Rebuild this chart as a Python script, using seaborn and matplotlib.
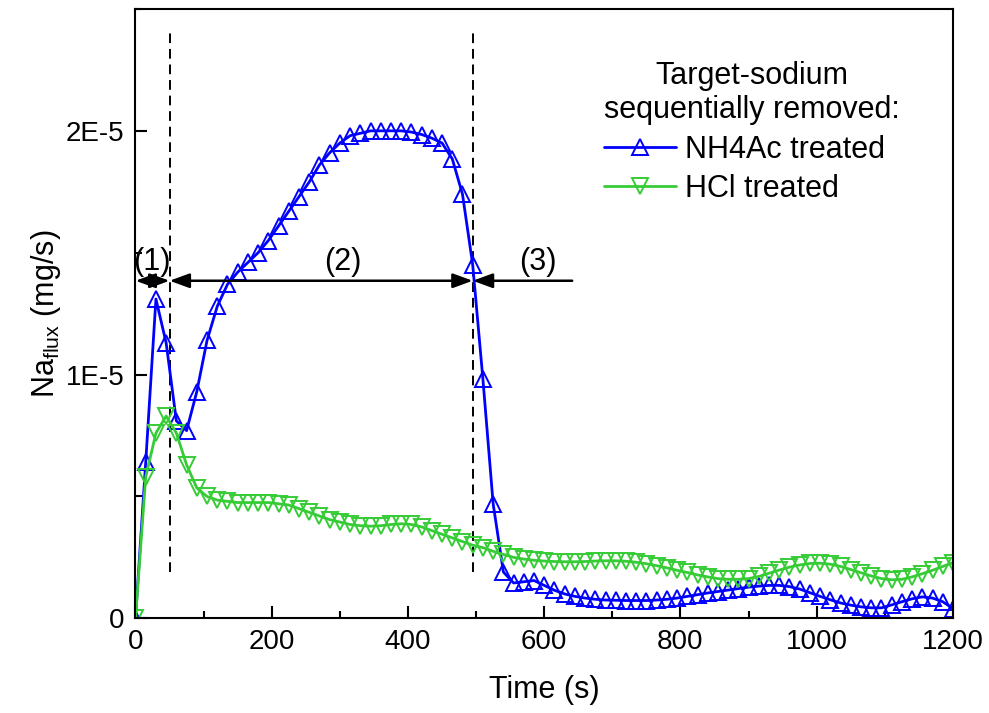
import matplotlib
matplotlib.use("Agg")
import matplotlib.pyplot as plt
from matplotlib.ticker import MultipleLocator, FixedLocator, FixedFormatter
import seaborn as sns
import pandas as pd
import numpy as np

# time axis (s), one sample every 15 s
time_s = list(range(0, 1201, 15))

# Na flux in units of 1E-5 mg/s
nh4ac = [0, 0.64, 1.31, 1.13, 0.81, 0.77, 0.93, 1.14, 1.28, 1.37,
         1.42, 1.46, 1.50, 1.55, 1.61, 1.67, 1.73, 1.79, 1.86, 1.91,
         1.95, 1.98, 1.99, 2.00, 2.00, 2.00, 2.00, 1.995, 1.985, 1.97,
         1.95, 1.885, 1.74, 1.45, 0.98, 0.47, 0.19, 0.145, 0.15, 0.155,
         0.135, 0.115, 0.10, 0.09, 0.083, 0.078, 0.075, 0.074, 0.073, 0.073,
         0.073, 0.075, 0.078, 0.083, 0.09, 0.097, 0.104, 0.11, 0.116, 0.122,
         0.128, 0.132, 0.135, 0.135, 0.13, 0.12, 0.105, 0.09, 0.076, 0.063,
         0.054, 0.047, 0.043, 0.043, 0.055, 0.068, 0.08, 0.088, 0.083, 0.068,
         0.04]
hcl = [0, 0.58, 0.76, 0.83, 0.76, 0.63, 0.535, 0.50, 0.485, 0.48,
       0.475, 0.475, 0.475, 0.475, 0.47, 0.465, 0.45, 0.435, 0.42, 0.405,
       0.395, 0.385, 0.38, 0.378, 0.38, 0.385, 0.388, 0.385, 0.375, 0.36,
       0.345, 0.33, 0.315, 0.30, 0.29, 0.275, 0.262, 0.25, 0.243, 0.238,
       0.235, 0.233, 0.232, 0.232, 0.233, 0.235, 0.236, 0.236, 0.234, 0.23,
       0.224, 0.216, 0.207, 0.197, 0.188, 0.178, 0.17, 0.163, 0.16, 0.16,
       0.163, 0.172, 0.185, 0.198, 0.21, 0.219, 0.225, 0.226, 0.222, 0.213,
       0.2, 0.187, 0.174, 0.163, 0.158, 0.16, 0.17, 0.183, 0.197, 0.213,
       0.228]

series_names = ["NH4Ac treated", "HCl treated"]
legend_title = "Target-sodium\nsequentially removed:"

# stage boundaries (s) and labels
stage_edges = [0, 50, 495, 641]
stage_labels = ["(1)", "(2)", "(3)"]
stage_label_x = [24, 305, 590]

ytick_vals = [0, 1, 2]
ytick_labels = ["0", "1E-5", "2E-5"]

df = pd.DataFrame({"Time (s)": time_s,
                   "NH4Ac": np.array(nh4ac) * 1e-5,
                   "HCl": np.array(hcl) * 1e-5})

sns.set_style("ticks")
plt.rcParams["font.family"] = ["Liberation Sans", "DejaVu Sans"]
plt.rcParams["mathtext.fontset"] = "custom"
plt.rcParams["mathtext.rm"] = "Liberation Sans"
plt.rcParams["mathtext.it"] = "Liberation Sans:italic"
for key in ["text.color", "axes.labelcolor", "xtick.color", "ytick.color",
            "axes.edgecolor"]:
    plt.rcParams[key] = "black"

fig, ax = plt.subplots(figsize=(9.89, 7.13), dpi=100)
fig.subplots_adjust(left=0.137, right=0.9636, bottom=0.1328, top=0.9874)

sns.lineplot(data=df, x="Time (s)", y="NH4Ac", ax=ax, color="#0000ff", lw=2,
             marker="^", markersize=11.5, markerfacecolor="none",
             markeredgecolor="#0000ff", markeredgewidth=1.4,
             label=series_names[0])
sns.lineplot(data=df, x="Time (s)", y="HCl", ax=ax, color="#36cc36", lw=2,
             marker="v", markersize=11.5, markerfacecolor="none",
             markeredgecolor="#36cc36", markeredgewidth=1.4,
             label=series_names[1])

# dashed stage separators
for xv in stage_edges[1:3]:
    ax.plot([xv, xv], [0.19e-5, 2.40e-5], color="black", lw=1.4,
            ls=(0, (5, 3)), zorder=1)

arrow_y = 1.385e-5
head = "head_length=0.6,head_width=0.22"
ax.annotate("", xy=(stage_edges[0], arrow_y), xytext=(stage_edges[1], arrow_y),
            arrowprops=dict(arrowstyle="<|-|>," + head, color="black", lw=1.8,
                            mutation_scale=20, shrinkA=0, shrinkB=0))
ax.annotate("", xy=(stage_edges[1], arrow_y), xytext=(stage_edges[2], arrow_y),
            arrowprops=dict(arrowstyle="<|-|>," + head, color="black", lw=1.8,
                            mutation_scale=20, shrinkA=0, shrinkB=0))
ax.annotate("", xy=(stage_edges[2], arrow_y), xytext=(stage_edges[3], arrow_y),
            arrowprops=dict(arrowstyle="-|>," + head, color="black", lw=1.8,
                            mutation_scale=20, shrinkA=0, shrinkB=0))
for lab, xv in zip(stage_labels, stage_label_x):
    ax.text(xv, 1.46e-5, lab, ha="center", va="center", fontsize=22)

ax.set_xlim(0, 1200)
ax.set_ylim(0, 2.5e-5)
ax.xaxis.set_major_locator(MultipleLocator(200))
ax.xaxis.set_minor_locator(MultipleLocator(100))
ax.yaxis.set_major_locator(FixedLocator([v * 1e-5 for v in ytick_vals]))
ax.yaxis.set_major_formatter(FixedFormatter(ytick_labels))
ax.yaxis.set_minor_locator(MultipleLocator(0.5e-5))
ax.tick_params(which="both", direction="in", width=1.5, labelsize=20)
ax.tick_params(which="major", length=8.5, pad=8)
ax.tick_params(which="minor", length=5)
for sp in ax.spines.values():
    sp.set_linewidth(1.5)
    sp.set_visible(True)

ax.set_xlabel("Time (s)", fontsize=22, labelpad=14)
ax.set_ylabel(r"Na$_{\mathrm{flux}}$ (mg/s)", fontsize=22, labelpad=2)

leg = ax.legend(title=legend_title, loc="upper left",
                bbox_to_anchor=(0.555, 0.94), frameon=False, fontsize=22,
                title_fontsize=22, handlelength=2.35, handletextpad=0.3,
                borderpad=0, labelspacing=0.3, alignment="left")
leg.get_title().set_multialignment("center")

fig.savefig("out.png", dpi=100)
